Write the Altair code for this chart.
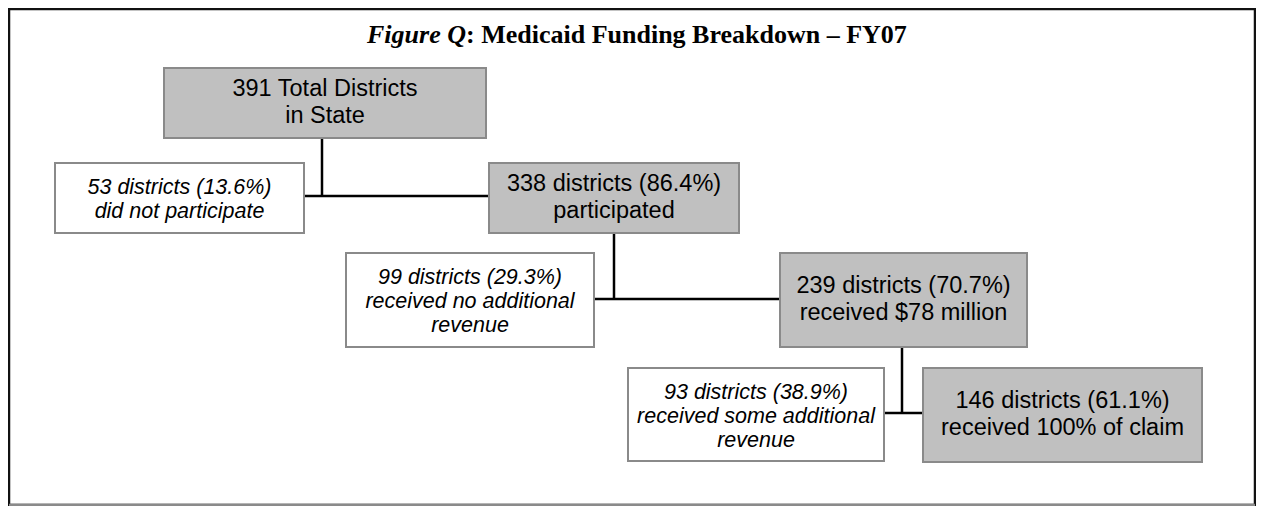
import altair as alt
import pandas as pd

# Chart content
box_labels = [
    "391 Total Districts\nin State",
    "53 districts (13.6%)\ndid not participate",
    "338 districts (86.4%)\nparticipated",
    "99 districts (29.3%)\nreceived no additional\nrevenue",
    "239 districts (70.7%)\nreceived $78 million",
    "93 districts (38.9%)\nreceived some additional\nrevenue",
    "146 districts (61.1%)\nreceived 100% of claim",
]
box_kind = ["main", "side", "main", "side", "main", "side", "main"]
box_x1 = [164, 55, 489, 346, 780, 628, 923]
box_x2 = [486, 304, 739, 594, 1027, 884, 1202]
box_y1 = [68, 163, 163, 253, 253, 368, 368]
box_y2 = [138, 233, 233, 347, 347, 461, 462]

# connectors: (x1, y1, x2, y2)
conn_x1 = [322, 304, 614, 594, 902, 884]
conn_y1 = [138, 196, 233, 299, 347, 413]
conn_x2 = [322, 489, 614, 780, 902, 923]
conn_y2 = [196, 196, 299, 299, 413, 413]

title_italic = "Figure Q"
title_rest = ": Medicaid Funding Breakdown \u2013 FY07"

W, H = 1248, 498
OFF = 8
xs = alt.Scale(domain=[OFF, OFF + W])
ys = alt.Scale(domain=[OFF + H, OFF])

MAIN_LH, SIDE_LH = 27, 24

boxes = pd.DataFrame({
    "label": box_labels, "kind": box_kind,
    "x1": box_x1, "x2": box_x2, "y1": box_y1, "y2": box_y2,
})
boxes["cx"] = (boxes.x1 + boxes.x2) / 2
nlines = boxes.label.str.count("\n")
lh = boxes.kind.map({"main": MAIN_LH, "side": SIDE_LH})
shift = boxes.kind.map({"main": -1, "side": 2})
boxes["ty"] = (boxes.y1 + boxes.y2) / 2 - nlines * lh / 2 + shift
conns = pd.DataFrame({"x1": conn_x1, "y1": conn_y1, "x2": conn_x2, "y2": conn_y2})

X = lambda f: alt.X(f, type="quantitative", scale=xs, axis=None)
Y = lambda f: alt.Y(f, type="quantitative", scale=ys, axis=None)

frame_df = pd.DataFrame({"x1": [OFF + 1], "x2": [OFF + W - 1], "y1": [OFF + 1], "y2": [OFF + H - 1]})
frame = alt.Chart(frame_df).mark_rect(fill="white", stroke="#111111", strokeWidth=2.5).encode(
    x=X("x1"), x2="x2", y=Y("y1"), y2="y2")
frame_bottom = alt.Chart(frame_df).mark_rule(color="#8a8a8a", strokeWidth=2.5).encode(
    x=X("x1"), x2="x2", y=Y("y2"))

rules = alt.Chart(conns).mark_rule(color="black", strokeWidth=2.5).encode(
    x=X("x1"), y=Y("y1"), x2="x2", y2="y2")

rects = alt.Chart(boxes).mark_rect(stroke="#8a8a8a", strokeWidth=2).encode(
    x=X("x1"), x2="x2", y=Y("y1"), y2="y2",
    fill=alt.Fill("kind:N", scale=alt.Scale(domain=["main", "side"], range=["#c0c0c0", "#ffffff"]), legend=None),
)

main_text = alt.Chart(boxes[boxes.kind == "main"]).mark_text(
    font="Liberation Sans", fontSize=23.5, lineBreak="\n", lineHeight=MAIN_LH, color="black",
    align="center", baseline="middle").encode(x=X("cx"), y=Y("ty"), text="label:N")

side_text = alt.Chart(boxes[boxes.kind == "side"]).mark_text(
    font="Liberation Sans", fontSize=21.5, fontStyle="italic", lineBreak="\n", lineHeight=SIDE_LH,
    color="black", align="center", baseline="middle").encode(x=X("cx"), y=Y("ty"), text="label:N")

t_df = pd.DataFrame({"a": [title_italic], "b": [title_rest], "x": [466], "y": [43]})
title1 = alt.Chart(t_df).mark_text(font="Liberation Serif", fontSize=26, fontStyle="italic",
    fontWeight="bold", align="right", baseline="alphabetic", color="black").encode(
    x=X("x"), y=Y("y"), text="a:N")
title2 = alt.Chart(t_df).mark_text(font="Liberation Serif", fontSize=26,
    fontWeight="bold", align="left", baseline="alphabetic", color="black").encode(
    x=X("x"), y=Y("y"), text="b:N")

chart = alt.layer(frame, frame_bottom, rules, rects, main_text, side_text, title1, title2).properties(
    width=W, height=H, padding=0, autosize=alt.AutoSizeParams(type="none")
).configure_view(stroke=None).configure(background="white")

chart.save("out.html", embed_options={"renderer": "svg", "actions": False})
